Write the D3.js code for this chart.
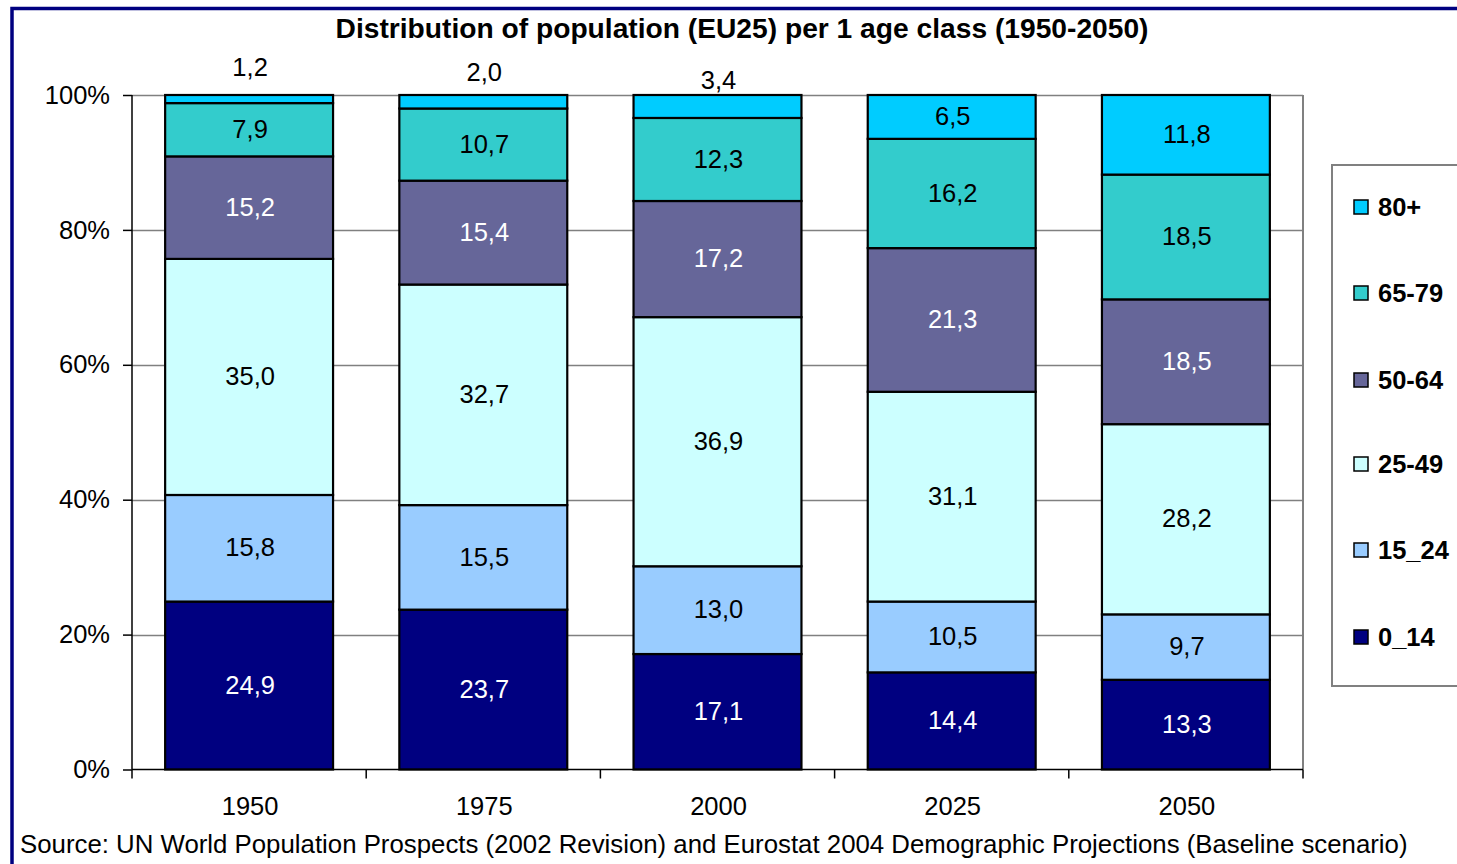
<!DOCTYPE html>
<html>
<head>
<meta charset="utf-8">
<script src="https://cdn.jsdelivr.net/npm/d3@7"></script>
<style>
  html, body { margin: 0; padding: 0; background: #fff; }
  svg { display: block; font-family: "Liberation Sans", Arial, sans-serif; }
</style>
</head>
<body>
<svg id="chart" width="1457" height="864"></svg>
<script>
// ---- data ----
const years = ["1950", "1975", "2000", "2025", "2050"];
const seriesNames = ["0_14", "15_24", "25-49", "50-64", "65-79", "80+"];
const v0_14  = [24.9, 23.7, 17.1, 14.4, 13.3];
const v15_24 = [15.8, 15.5, 13.0, 10.5, 9.7];
const v25_49 = [35.0, 32.7, 36.9, 31.1, 28.2];
const v50_64 = [15.2, 15.4, 17.2, 21.3, 18.5];
const v65_79 = [7.9, 10.7, 12.3, 16.2, 18.5];
const v80p   = [1.2, 2.0, 3.4, 6.5, 11.8];
const yTicks = [0, 0.2, 0.4, 0.6, 0.8, 1.0];
const yTickLabels = ["0%", "20%", "40%", "60%", "80%", "100%"];
const title = "Distribution of population (EU25) per 1 age class (1950-2050)";
const source = "Source: UN World Population Prospects (2002 Revision) and Eurostat 2004 Demographic Projections (Baseline scenario)";

const seriesValues = [v0_14, v15_24, v25_49, v50_64, v65_79, v80p];
const colors = ["#000080", "#99CCFF", "#CCFFFF", "#666699", "#33CCCC", "#00CCFF"];
const labelColors = ["#fff", "#000", "#000", "#fff", "#000", "#000"];

const rows = years.map((y, i) => {
  const r = { year: y };
  seriesNames.forEach((s, j) => r[s] = seriesValues[j][i]);
  return r;
});

const svg = d3.select("#chart");
const W = 1457, H = 864;
const FS = 25.5;

// outer frame
svg.append("rect").attr("x", 12).attr("y", 8.5).attr("width", W + 20).attr("height", H + 20)
  .attr("fill", "none").attr("stroke", "#000080").attr("stroke-width", 3.5);

const plot = { left: 132, right: 1303, top: 95, bottom: 769.5 };

const x = d3.scaleBand().domain(years).range([plot.left, plot.right])
  .paddingInner(0.283).paddingOuter(0.1415);
const y = d3.scaleLinear().domain([0, 1]).range([plot.bottom, plot.top]);

// gridlines
svg.append("g").selectAll("line").data(yTicks.slice(1)).join("line")
  .attr("x1", plot.left).attr("x2", plot.right)
  .attr("y1", d => Math.round(y(d)) + 0.5).attr("y2", d => Math.round(y(d)) + 0.5)
  .attr("stroke", "#808080").attr("stroke-width", 1.5);
// right border of plot area
svg.append("line").attr("x1", plot.right).attr("x2", plot.right)
  .attr("y1", plot.top).attr("y2", plot.bottom).attr("stroke", "#808080").attr("stroke-width", 2);

// stack
const stack = d3.stack().keys(seriesNames).offset(d3.stackOffsetExpand);
const stacked = stack(rows);

const groups = svg.append("g").selectAll("g").data(stacked).join("g")
  .attr("fill", (d, i) => colors[i]);
groups.selectAll("rect").data(d => d).join("rect")
  .attr("x", d => x(d.data.year))
  .attr("width", x.bandwidth())
  .attr("y", d => y(d[1]))
  .attr("height", d => y(d[0]) - y(d[1]))
  .attr("stroke", "#000").attr("stroke-width", 2.2);

// labels
const aboveOffsets = { "1950": 28, "1975": 23, "2000": 15 };
stacked.forEach((layer, j) => {
  layer.forEach((d, i) => {
    const val = seriesValues[j][i];
    const txt = val.toFixed(1).replace(".", ",");
    const cx = x(d.data.year) + x.bandwidth() / 2 + 1;
    let cy, col = labelColors[j];
    if (j === 5 && aboveOffsets[d.data.year] !== undefined) {
      cy = y(1) - aboveOffsets[d.data.year];
      col = "#000";
    } else {
      cy = (y(d[0]) + y(d[1])) / 2 - 1;
    }
    svg.append("text").attr("x", cx).attr("y", cy).attr("dy", "0.36em")
      .attr("text-anchor", "middle").attr("font-size", FS).attr("fill", col).text(txt);
  });
});

// y axis
const yAxis = svg.append("g").attr("transform", `translate(${plot.left},0)`)
  .call(d3.axisLeft(y).tickValues(yTicks).tickSize(9).tickPadding(13)
    .tickFormat((d, i) => yTickLabels[i]));
yAxis.select(".domain").attr("stroke", "#000").attr("stroke-width", 1.5).attr("d", `M0,${plot.top}V${plot.bottom}`);
yAxis.selectAll(".tick line").attr("stroke", "#000").attr("stroke-width", 1.5);
yAxis.selectAll(".tick text").attr("font-size", FS).attr("fill", "#000")
  .attr("font-family", "Liberation Sans, Arial, sans-serif");

// x axis
const xAxisG = svg.append("g").attr("transform", `translate(0,${plot.bottom})`);
xAxisG.append("line").attr("x1", plot.left).attr("x2", plot.right).attr("y1", 0).attr("y2", 0)
  .attr("stroke", "#000").attr("stroke-width", 1.5);
const step = x.step();
const bounds = years.map((yr, i) => x(yr) - step * x.paddingInner() / 2).concat([plot.right]);
bounds[0] = plot.left;
xAxisG.selectAll("line.tk").data(bounds).join("line").attr("class", "tk")
  .attr("x1", d => d).attr("x2", d => d).attr("y1", 0).attr("y2", 9)
  .attr("stroke", "#000").attr("stroke-width", 1.5);
xAxisG.selectAll("text").data(years).join("text")
  .attr("x", d => x(d) + x.bandwidth() / 2 + 1).attr("y", 36).attr("dy", "0.36em")
  .attr("text-anchor", "middle").attr("font-size", FS).text(d => d);

// title
svg.append("text").attr("x", 742).attr("y", 28).attr("dy", "0.36em").attr("text-anchor", "middle")
  .attr("font-size", 28.2).attr("font-weight", "bold").text(title);

// source
svg.append("text").attr("x", 20).attr("y", 844).attr("dy", "0.36em")
  .attr("font-size", 25.8).text(source);

// legend
const lg = svg.append("g");
lg.append("rect").attr("x", 1332).attr("y", 165).attr("width", 200).attr("height", 521)
  .attr("fill", "#fff").attr("stroke", "#808080").attr("stroke-width", 2);
const legendOrder = seriesNames.slice().reverse();
const legendY = [207, 293, 380, 464, 550, 637];
legendOrder.forEach((s, k) => {
  const idx = seriesNames.indexOf(s);
  lg.append("rect").attr("x", 1354).attr("y", legendY[k] - 7).attr("width", 14).attr("height", 14)
    .attr("fill", colors[idx]).attr("stroke", "#000").attr("stroke-width", 1.5);
  lg.append("text").attr("x", 1378).attr("y", legendY[k]).attr("dy", "0.36em")
    .attr("font-size", FS).attr("font-weight", "bold").text(s);
});
</script>
</body>
</html>
